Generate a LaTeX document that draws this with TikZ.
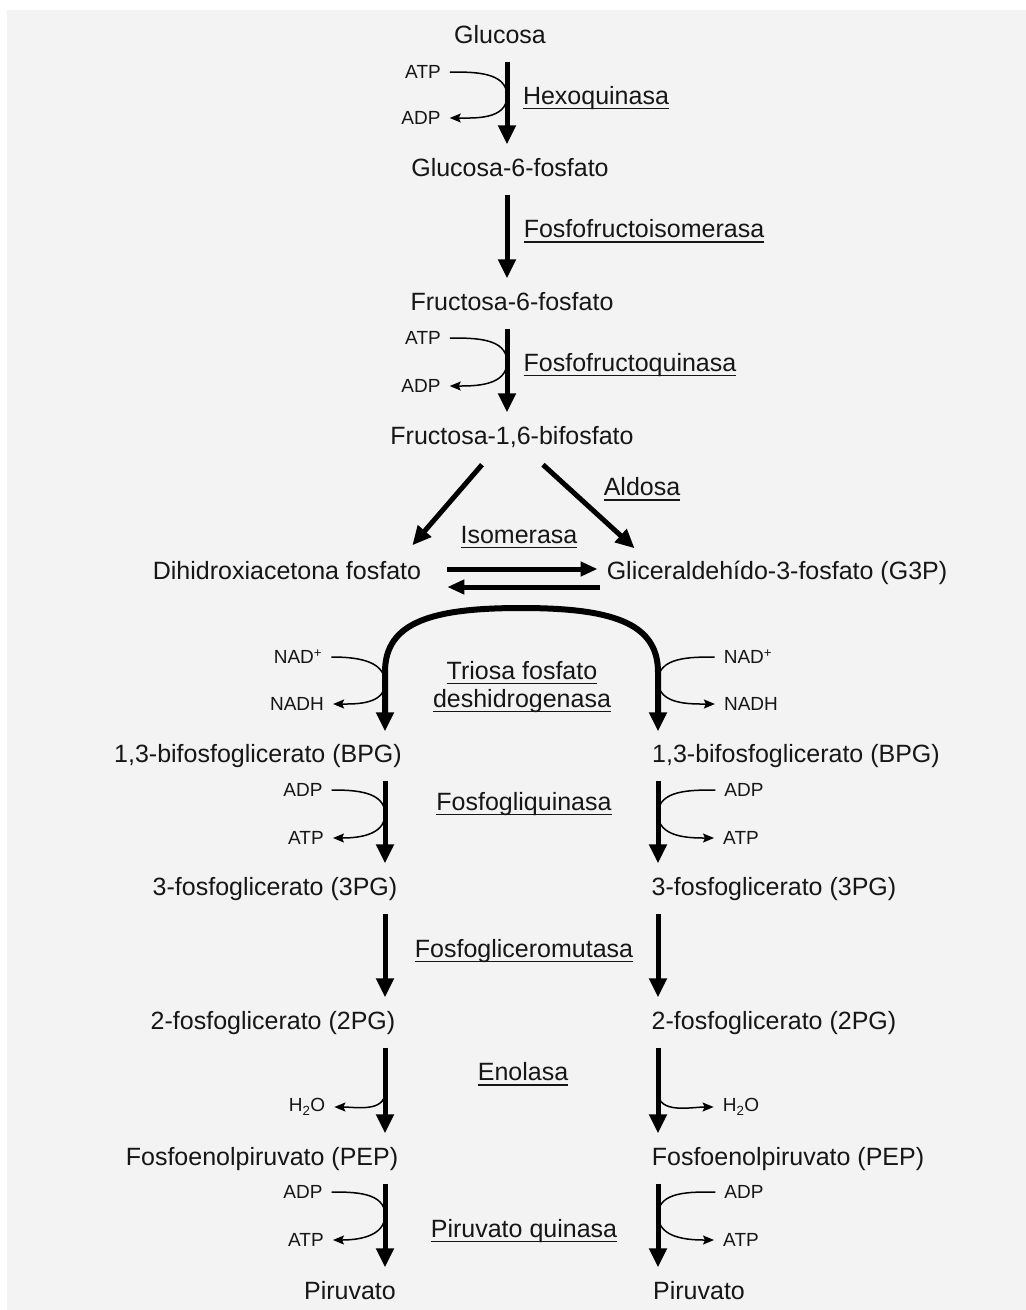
\documentclass[tikz,border=0pt]{standalone}
\usepackage{fontspec}
\setmainfont{Liberation Sans}
\usepackage{xcolor}
\usetikzlibrary{arrows.meta,calc}

\definecolor{fondo}{HTML}{F3F3F3}
\definecolor{tinta}{HTML}{161616}
\newcommand{\enzima}[1]{\setbox0\hbox{#1}\rlap{\rule[-5pt]{\wd0}{1.3pt}}\box0}

\begin{document}
\begin{tikzpicture}[x=1pt, y=1pt,
    metab/.style={font=\fontsize{25}{30}\selectfont, text=tinta, text height=18pt, text depth=5pt, inner sep=3pt},
    cof/.style={font=\fontsize{19}{22}\selectfont, text=tinta, inner xsep=9pt, inner ysep=2pt},
    enz/.style={font=\fontsize{25}{28}\selectfont, text=tinta, align=center},
    paso/.style={line width=5pt, -{Triangle[length=19pt,width=17pt]}, shorten <=10pt, shorten >=11pt},
    lado/.style={line width=1.5pt, -{Stealth[length=11pt,width=9pt,inset=2pt]}},
    iso/.style={line width=5pt, -{Triangle[length=17pt,width=14pt]}}]

        \useasboundingbox (0,0) rectangle (1026,-1310);
        \fill[fondo] (7,-10) rectangle (1026,-1310);

        % Ejes de las flechas
        \coordinate (ejeA) at (507,0);
        \coordinate (ejeL) at (385,0);
        \coordinate (ejeR) at (658,0);
        \coordinate (cima) at (521,-608);

        % Metabolitos
        \node[metab] (glc) at (500,-37) {Glucosa};
        \node[metab] (g6p) at (510,-170) {Glucosa-6-fosfato};
        \node[metab] (f6p) at (512,-304) {Fructosa-6-fosfato};
        \node[metab] (f16bp) at (512,-438) {Fructosa-1,6-bifosfato};
        \node[metab] (dhap) at (287,-573) {Dihidroxiacetona fosfato};
        \node[metab] (g3p) at (777,-573) {Gliceraldehído-3-fosfato (G3P)};
        \node[metab] (bpgL) at (258,-756) {1,3-bifosfoglicerato (BPG)};
        \node[metab] (bpgR) at (796,-756) {1,3-bifosfoglicerato (BPG)};
        \node[metab] (pg3L) at (275,-889) {3-fosfoglicerato (3PG)};
        \node[metab] (pg3R) at (774,-889) {3-fosfoglicerato (3PG)};
        \node[metab] (pg2L) at (273,-1023) {2-fosfoglicerato (2PG)};
        \node[metab] (pg2R) at (774,-1023) {2-fosfoglicerato (2PG)};
        \node[metab] (pepL) at (262,-1159) {Fosfoenolpiruvato (PEP)};
        \node[metab] (pepR) at (788,-1159) {Fosfoenolpiruvato (PEP)};
        \node[metab] (pyrL) at (350,-1293) {Piruvato};
        \node[metab] (pyrR) at (699,-1293) {Piruvato};

        % Enzimas
        \node[enz] (hexo) at (596,-98) {\enzima{Hexoquinasa}};
        \node[enz] (ffi) at (644,-231) {\enzima{Fosfofructoisomerasa}};
        \node[enz] (ffq) at (630,-365) {\enzima{Fosfofructoquinasa}};
        \node[enz] (aldosa) at (642,-489) {\enzima{Aldosa}};
        \node[enz] (isom) at (519,-537) {\enzima{Isomerasa}};
        \node[enz] (triosa) at (522,-687) {\enzima{Triosa fosfato}\\\enzima{deshidrogenasa}};
        \node[enz] (fgq) at (524,-804) {\enzima{Fosfogliquinasa}};
        \node[enz] (fgm) at (524,-951) {\enzima{Fosfogliceromutasa}};
        \node[enz] (enol) at (523,-1074) {\enzima{Enolasa}};
        \node[enz] (pk) at (524,-1231) {\enzima{Piruvato quinasa}};

        % Cofactores
        \node[cof] (atp1) at (423,-72) {ATP};
        \node[cof] (adp1) at (421,-118) {ADP};
        \node[cof] (atp2) at (423,-338) {ATP};
        \node[cof] (adp2) at (421,-386) {ADP};
        \node[cof] (nadL) at (298,-657) {NAD\textsuperscript{+}};
        \node[cof] (nadhL) at (297,-704) {NADH};
        \node[cof] (nadR) at (748,-657) {NAD\textsuperscript{+}};
        \node[cof] (nadhR) at (751,-704) {NADH};
        \node[cof] (adpL1) at (303,-790) {ADP};
        \node[cof] (atpL1) at (306,-838) {ATP};
        \node[cof] (adpR1) at (744,-790) {ADP};
        \node[cof] (atpR1) at (741,-838) {ATP};
        \node[cof] (h2oL) at (307,-1107) {H\textsubscript{2}O};
        \node[cof] (h2oR) at (741,-1107) {H\textsubscript{2}O};
        \node[cof] (adpL2) at (303,-1192) {ADP};
        \node[cof] (atpL2) at (306,-1240) {ATP};
        \node[cof] (adpR2) at (744,-1192) {ADP};
        \node[cof] (atpR2) at (741,-1240) {ATP};

        % Puntos de contacto
        \coordinate (tA1) at (507,-96);
        \coordinate (tA2) at (507,-362);
        \coordinate (tL1) at (385,-683);
        \coordinate (tR1) at (658,-681);
        \coordinate (tL2) at (385,-814);
        \coordinate (tR2) at (658,-814);
        \coordinate (tL3) at (385,-1092);
        \coordinate (tR3) at (658,-1092);
        \coordinate (tL4) at (385,-1215);
        \coordinate (tR4) at (658,-1215);

        % Parte comun
        \draw[paso] (glc.south -| ejeA) -- (g6p.north -| ejeA);
        \draw[paso] (g6p.south -| ejeA) -- (f6p.north -| ejeA);
        \draw[paso] (f6p.south -| ejeA) -- (f16bp.north -| ejeA);
        \draw[lado] (atp1.east) to[out=0,in=90] (tA1) to[out=-90,in=0] (adp1.east);
        \draw[lado] (atp2.east) to[out=0,in=90] (tA2) to[out=-90,in=0] (adp2.east);

        \draw[paso, shorten <=0pt, shorten >=0pt] ([xshift=-30pt,yshift=-12pt]f16bp.south) -- ([xshift=-12pt,yshift=13pt]dhap.north east);
        \draw[paso, shorten <=0pt, shorten >=0pt] ([xshift=31pt,yshift=-12pt]f16bp.south) -- ([xshift=31pt,yshift=10pt]g3p.north west);
        \draw[iso, shorten <=23pt, shorten >=6pt] ([yshift=4pt]dhap.east) -- ([yshift=4pt]g3p.west);
        \draw[iso, shorten <=4pt, shorten >=23pt] ([yshift=-14pt]g3p.west) -- ([yshift=-14pt]dhap.east);

        % Arco
        \draw[line width=6pt, {Triangle[length=19pt,width=17pt]}-{Triangle[length=19pt,width=17pt]}, shorten <=10pt, shorten >=10pt]
            (bpgL.north -| ejeL) -- (385,-672) .. controls (385,-622) and (432,-608) .. (cima)
            .. controls (610,-608) and (658,-622) .. (658,-672) -- (bpgR.north -| ejeR);
        \draw[lado] (nadL.east) to[out=0,in=90] (tL1) to[out=-90,in=0] (nadhL.east);
        \draw[lado] (nadR.west) to[out=180,in=90] (tR1) to[out=-90,in=180] (nadhR.west);

        % Columna izquierda
        \draw[paso] (bpgL.south -| ejeL) -- (pg3L.north -| ejeL);
        \draw[paso] (pg3L.south -| ejeL) -- (pg2L.north -| ejeL);
        \draw[paso] (pg2L.south -| ejeL) -- (pepL.north -| ejeL);
        \draw[paso] (pepL.south -| ejeL) -- (pyrL.north -| ejeL);
        \draw[lado] (adpL1.east) to[out=0,in=90] (tL2) to[out=-90,in=0] (atpL1.east);
        \draw[lado] (tL3) to[out=-90,in=0] (h2oL.east);
        \draw[lado] (adpL2.east) to[out=0,in=90] (tL4) to[out=-90,in=0] (atpL2.east);

        % Columna derecha
        \draw[paso] (bpgR.south -| ejeR) -- (pg3R.north -| ejeR);
        \draw[paso] (pg3R.south -| ejeR) -- (pg2R.north -| ejeR);
        \draw[paso] (pg2R.south -| ejeR) -- (pepR.north -| ejeR);
        \draw[paso] (pepR.south -| ejeR) -- (pyrR.north -| ejeR);
        \draw[lado] (adpR1.west) to[out=180,in=90] (tR2) to[out=-90,in=180] (atpR1.west);
        \draw[lado] (tR3) to[out=-90,in=180] (h2oR.west);
        \draw[lado] (adpR2.west) to[out=180,in=90] (tR4) to[out=-90,in=180] (atpR2.west);
\end{tikzpicture}
\end{document}
